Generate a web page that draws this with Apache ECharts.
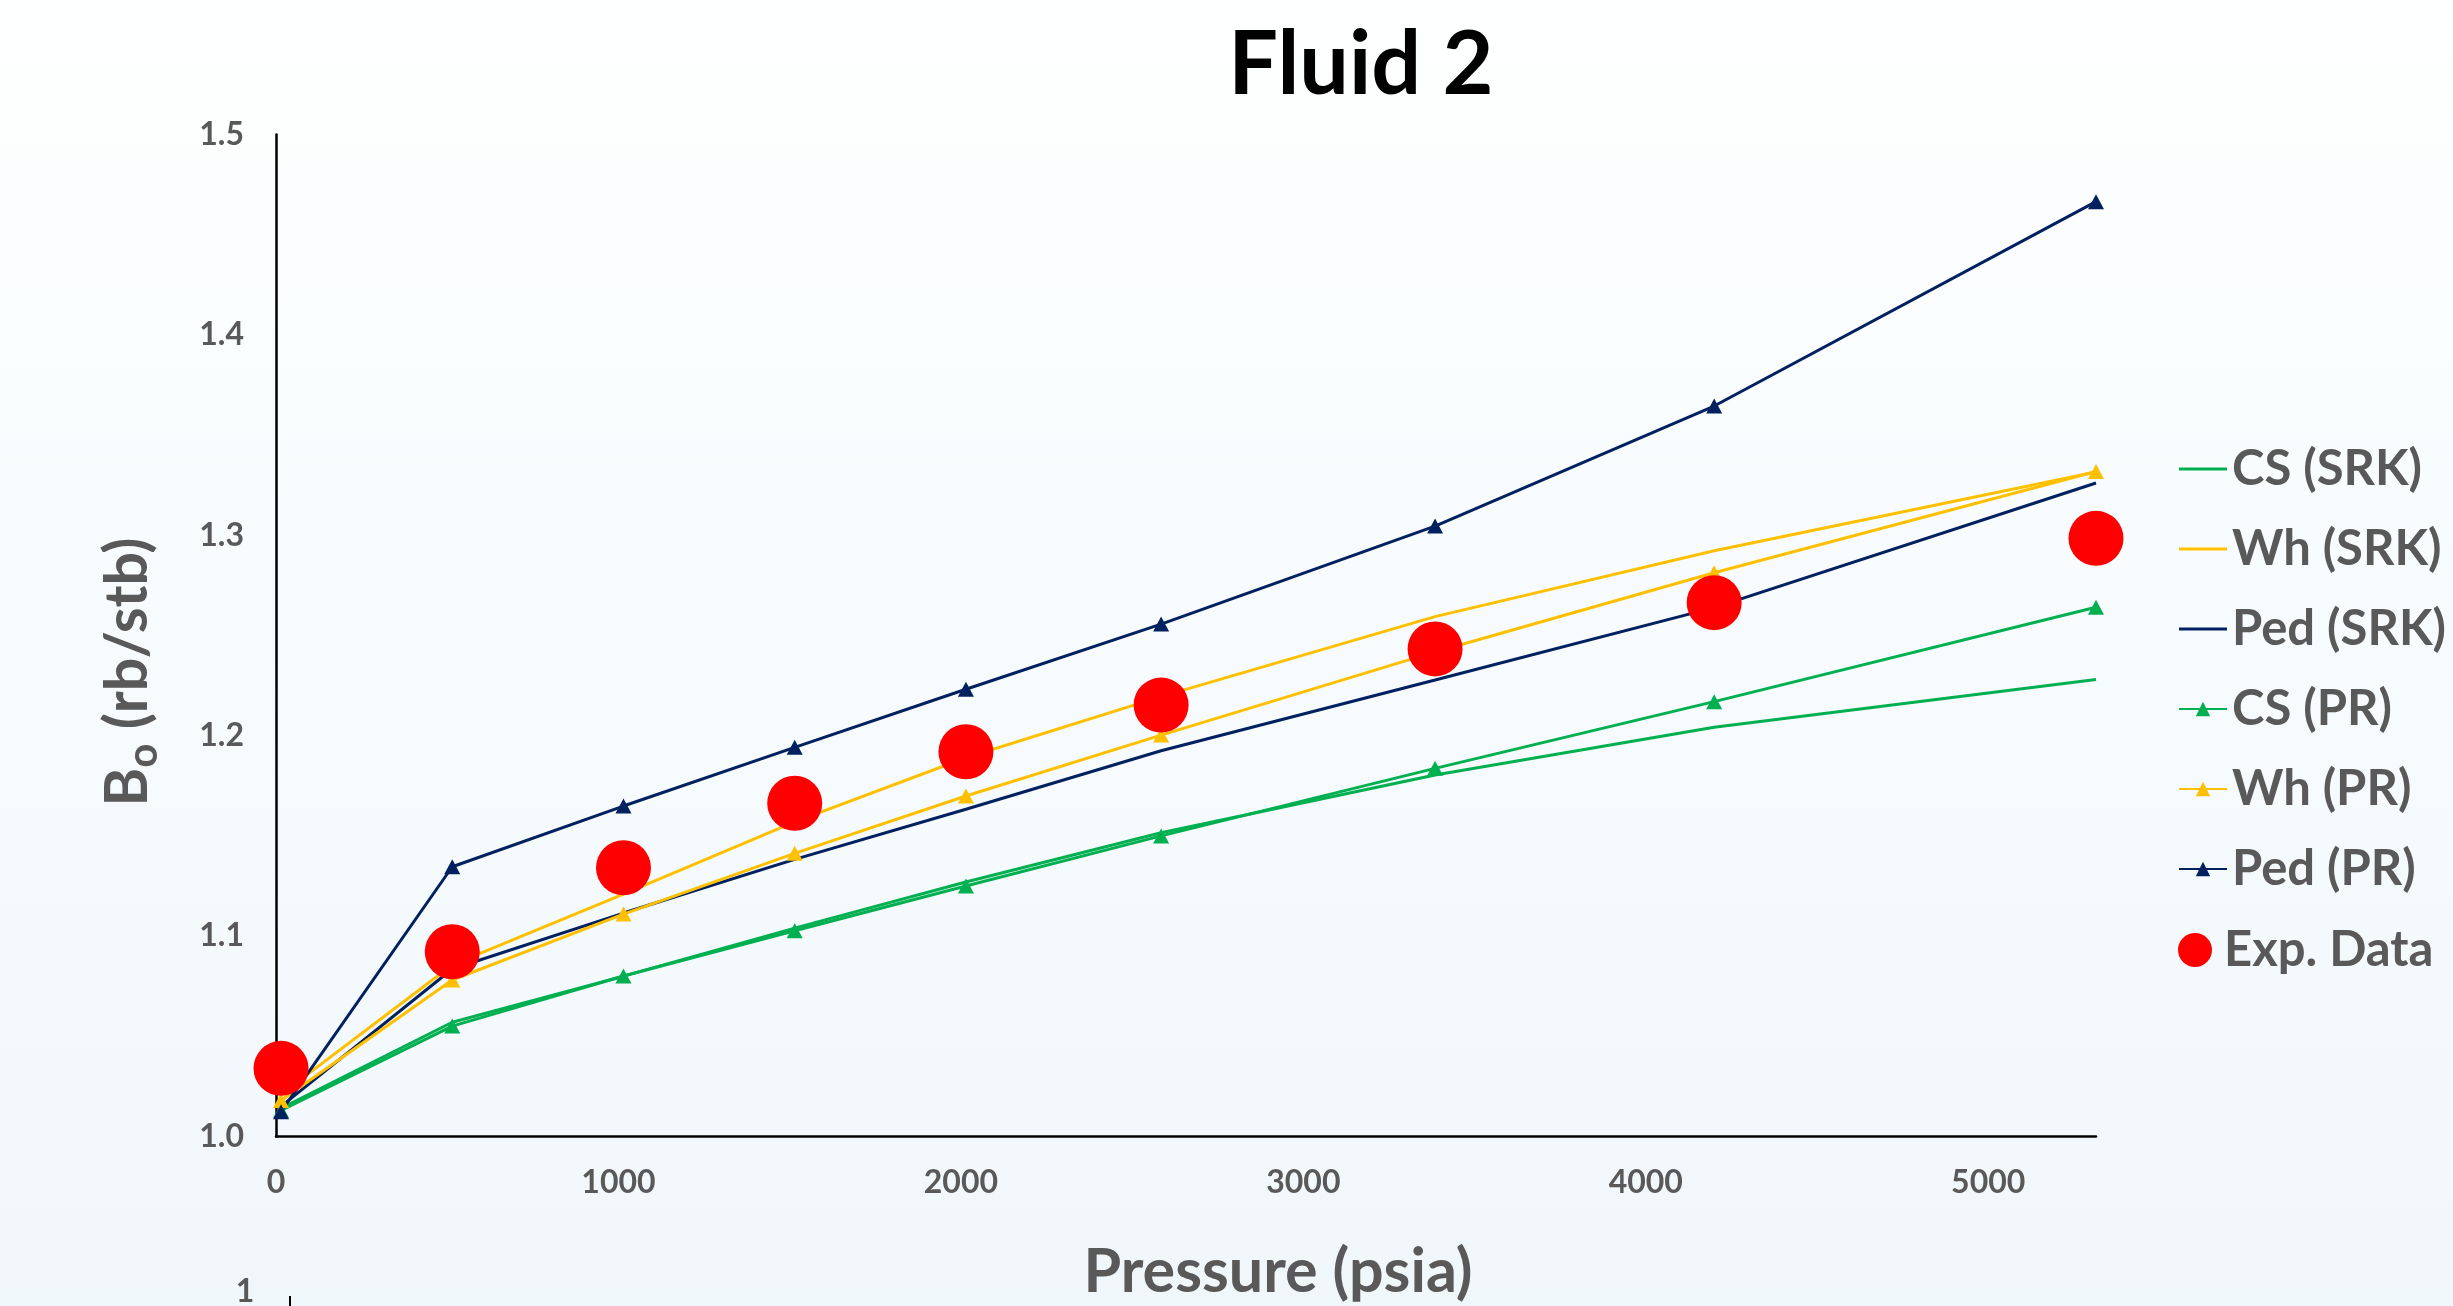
<!DOCTYPE html>
<html>
<head>
<meta charset="utf-8">
<title>Fluid 2</title>
<script src="https://cdn.jsdelivr.net/npm/echarts@6/dist/echarts.min.js"></script>
<style>
  html, body { margin: 0; padding: 0; width: 2453px; height: 1306px; overflow: hidden; }
  #chart { width: 2453px; height: 1306px; }
</style>
</head>
<body>
<div id="chart"></div>
<script>
// ---- data ----
const pressures = [14.7, 514.7, 1014.7, 1514.7, 2014.7, 2584.7, 3384.7, 4199.7, 5314.7];
const csSRK  = [1.014, 1.057, 1.080, 1.104, 1.127, 1.1516, 1.1804, 1.2042, 1.2281];
const whSRK  = [1.021, 1.0856, 1.121, 1.157, 1.189, 1.2195, 1.2594, 1.2923, 1.3316];
const pedSRK = [1.015, 1.0836, 1.1115, 1.1383, 1.1633, 1.1925, 1.2278, 1.2639, 1.3261];
const csPR   = [1.013, 1.0551, 1.0801, 1.1027, 1.125, 1.150, 1.1837, 1.217, 1.2641];
const whPR   = [1.018, 1.0781, 1.111, 1.1413, 1.1699, 1.2003, 1.2418, 1.2813, 1.3318];
const pedPR  = [1.0124, 1.1346, 1.1649, 1.1942, 1.2232, 1.2557, 1.3046, 1.3645, 1.4665];
const expData = [1.034, 1.0922, 1.1341, 1.1663, 1.192, 1.2153, 1.2433, 1.2664, 1.2985];
const seriesNames = ['CS (SRK)', 'Wh (SRK)', 'Ped (SRK)', 'CS (PR)', 'Wh (PR)', 'Ped (PR)', 'Exp. Data'];
const xMin = 0, xMax = 5314.7, xInterval = 1000;
const yMin = 1.0, yMax = 1.5, yInterval = 0.1;

const GREEN = '#00B050', GOLD = '#FFC000', NAVY = '#002060', RED = '#FF0000';
const GREY = '#595959';
const FONT = 'Lato';

function pairs(ys) { return pressures.map((p, i) => [p, ys[i]]); }

function lineSeries(name, ys, color, withMarker) {
  return {
    name: name,
    type: 'line',
    data: pairs(ys),
    color: color,
    symbol: withMarker ? 'triangle' : 'none',
    symbolSize: [16, 15],
    showSymbol: withMarker,
    clip: false,
    lineStyle: { color: color, width: 3, opacity: 1 },
    itemStyle: { color: color, opacity: 1 },
    emphasis: { disabled: true },
    animation: false,
    z: 2
  };
}

const lineIcon = 'path://M0,0H48V3H0Z';
const chart = echarts.init(document.getElementById('chart'), null, { renderer: 'canvas' });

chart.setOption({
  animation: false,
  backgroundColor: {
    type: 'linear', x: 0, y: 0, x2: 0, y2: 1,
    colorStops: [{ offset: 0, color: '#FEFFFF' }, { offset: 1, color: '#F0F7FB' }]
  },
  title: {
    text: 'Fluid 2',
    left: 1361, top: 22, textAlign: 'center', padding: 0,
    textStyle: { fontFamily: FONT, fontSize: 88, fontWeight: 'bold', color: '#000000' }
  },
  grid: { left: 276, top: 134.5, width: 1820, height: 1002, containLabel: false, outerBoundsMode: 'none' },
  xAxis: {
    type: 'value', min: xMin, max: xMax, interval: xInterval,
    axisLine: { show: true, lineStyle: { color: '#000000', width: 2.5 } },
    axisTick: { show: false },
    splitLine: { show: false },
    axisLabel: {
      show: true, margin: 30, showMaxLabel: false,
      formatter: v => String(Math.round(v)),
      fontFamily: FONT, fontSize: 32, fontWeight: 'bold', color: GREY
    }
  },
  yAxis: {
    type: 'value', min: yMin, max: yMax, interval: yInterval,
    axisLine: { show: true, lineStyle: { color: '#000000', width: 2.5 } },
    axisTick: { show: false },
    splitLine: { show: false },
    axisLabel: {
      show: true, margin: 32,
      formatter: v => v.toFixed(1),
      fontFamily: FONT, fontSize: 32, fontWeight: 'bold', color: GREY
    }
  },
  legend: [
    {
      orient: 'vertical', left: 2173, top: 439, padding: 5,
      itemWidth: 48, itemHeight: 18, itemGap: 30,
      selectedMode: false,
      textStyle: { fontFamily: FONT, fontSize: 49, fontWeight: 'bold', color: GREY, lineHeight: 50 },
      data: [
        { name: seriesNames[0], icon: lineIcon },
        { name: seriesNames[1], icon: lineIcon },
        { name: seriesNames[2], icon: lineIcon },
        { name: seriesNames[3] },
        { name: seriesNames[4] },
        { name: seriesNames[5] }
      ]
    },
    {
      orient: 'vertical', left: 2173, top: 920, padding: 5,
      itemWidth: 48, itemHeight: 34, itemGap: 30,
      selectedMode: false,
      itemStyle: { opacity: 1 },
      textStyle: { fontFamily: FONT, fontSize: 49, fontWeight: 'bold', color: GREY, lineHeight: 50 },
      data: [{ name: seriesNames[6], icon: 'circle' }]
    }
  ],
  graphic: [
    {
      type: 'text', x: 1278, y: 1272, silent: true,
      style: { text: 'Pressure (psia)', fontFamily: FONT, fontSize: 61, fontWeight: 'bold', fill: GREY, align: 'center', verticalAlign: 'middle' }
    },
    {
      type: 'text', x: 128, y: 672, rotation: Math.PI / 2, silent: true,
      style: {
        text: '{m|B}{s|o}{m| (rb/stb)}',
        align: 'center', verticalAlign: 'middle', fill: GREY,
        rich: {
          m: { fontFamily: FONT, fontSize: 59, fontWeight: 'bold', fill: GREY, lineHeight: 72, verticalAlign: 'middle' },
          s: { fontFamily: FONT, fontSize: 42, fontWeight: 'bold', fill: GREY, lineHeight: 28, verticalAlign: 'bottom' }
        }
      }
    },
    {
      type: 'text', x: 245, y: 1276, silent: true,
      style: { text: '1', fontFamily: FONT, fontSize: 32, fontWeight: 'bold', fill: GREY, align: 'center', verticalAlign: 'top' }
    },
    {
      type: 'line', silent: true,
      shape: { x1: 290, y1: 1296, x2: 290, y2: 1306 },
      style: { stroke: '#000000', lineWidth: 2 }
    }
  ],
  series: [
    lineSeries(seriesNames[0], csSRK, GREEN, false),
    lineSeries(seriesNames[1], whSRK, GOLD, false),
    lineSeries(seriesNames[2], pedSRK, NAVY, false),
    lineSeries(seriesNames[3], csPR, GREEN, true),
    lineSeries(seriesNames[4], whPR, GOLD, true),
    lineSeries(seriesNames[5], pedPR, NAVY, true),
    {
      name: seriesNames[6],
      type: 'scatter',
      data: pairs(expData),
      symbol: 'circle',
      symbolSize: 55,
      clip: false,
      color: RED,
      itemStyle: { color: RED, opacity: 1 },
      emphasis: { disabled: true },
      z: 3
    }
  ]
});
</script>
</body>
</html>
